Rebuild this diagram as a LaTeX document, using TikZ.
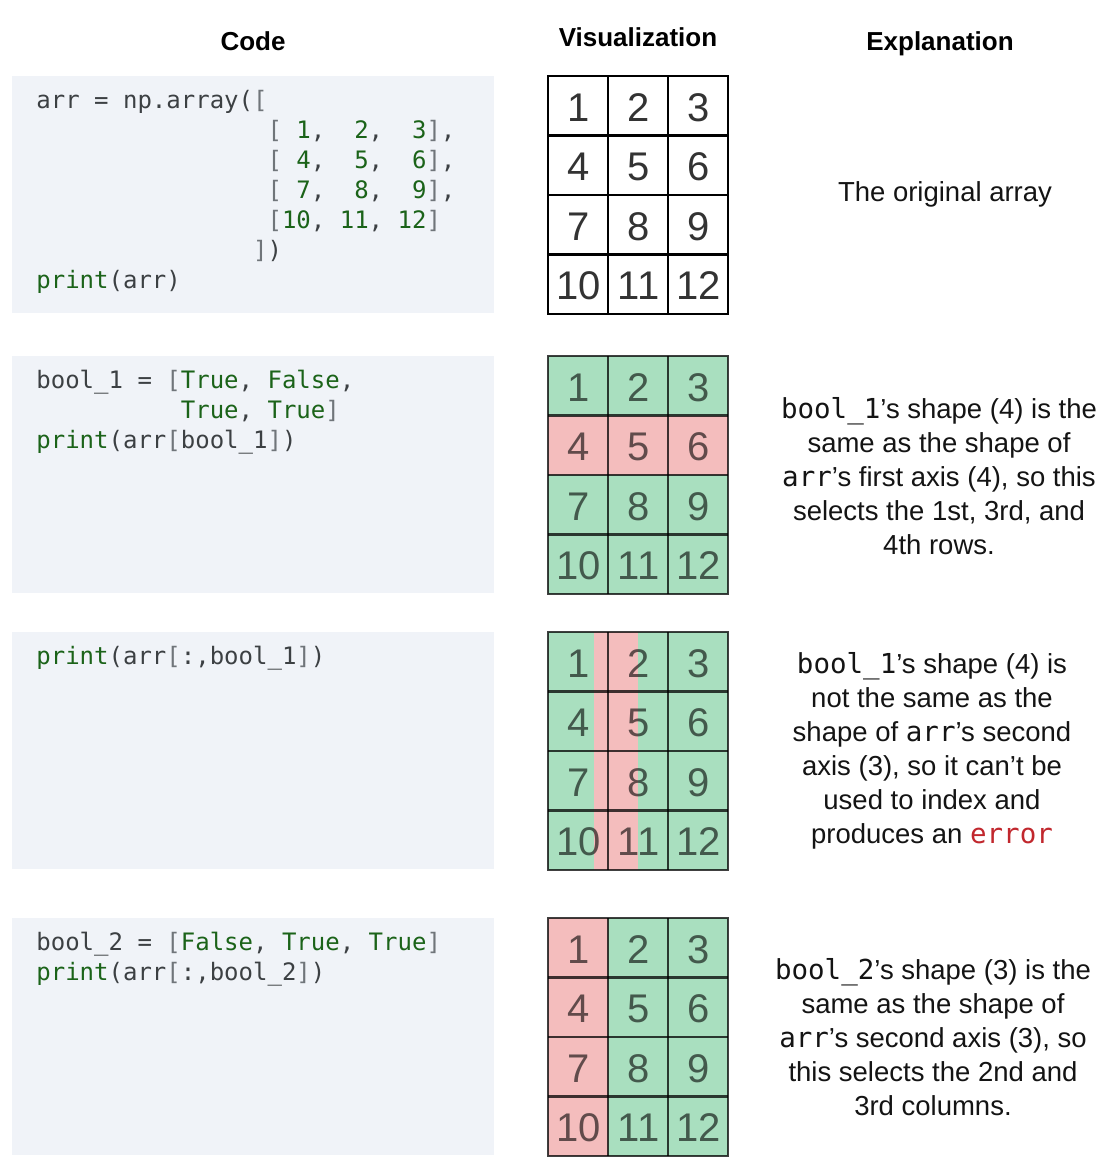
\documentclass[tikz,border=0pt]{standalone}
\usepackage{fontspec}
\setmainfont{Liberation Sans}
\setmonofont{DejaVu Sans Mono}

\definecolor{codebg}{HTML}{F0F3F8}
\definecolor{codegreen}{HTML}{1B6319}
\definecolor{codegray}{HTML}{3C4043}
\definecolor{brgray}{HTML}{70757A}
\definecolor{cellgreen}{HTML}{A9DFBF}
\definecolor{cellred}{HTML}{F4BDBD}
\definecolor{errred}{HTML}{C1272D}

\newcommand{\grn}[1]{\textcolor{codegreen}{#1}}
\newcommand{\gry}[1]{\textcolor{brgray}{#1}}

\tikzset{
  head/.style={anchor=base,font=\fontsize{13}{16}\selectfont\bfseries},
  codebox/.style={fill=codebg},
  codetext/.style={anchor=north west,inner sep=0pt,align=left,text=codegray,
    font=\fontsize{12}{15}\selectfont\ttfamily},
  expl/.style={align=center,text=black!92,font=\fontsize{13.75}{17}\selectfont},
  num/.style={font=\fontsize{20}{24}\selectfont,text=black,text opacity=0.8},
  tinted/.style={text opacity=0.6},
  gridline/.style={line width=1.2pt,draw=black},
  tintline/.style={line width=1.2pt,draw=black,draw opacity=0.75},
}

% numbers 1..12 of one grid, #1 = top edge
\newcommand{\gridnums}[3]{%
  \foreach \n [count=\i from 0] in {1,...,12}{
    \pgfmathtruncatemacro{\rw}{\i/3}
    \pgfmathtruncatemacro{\cl}{mod(\i,3)}
    \node[num,#3] (#2-\n) at ({578.5+60*\cl},{#1+31.5+59.5*\rw}) {\n};
  }
}
% cell borders of one grid
\newcommand{\gridlines}[2]{%
  \draw[#2] (548,#1) rectangle (728,#1+238);
  \foreach \k in {1,2} \draw[#2] ({548+60*\k},#1) -- ({548+60*\k},#1+238);
  \foreach \k in {1,2,3} \draw[#2] (548,{#1+59.5*\k}) -- (728,{#1+59.5*\k});
}

\begin{document}
\begin{tikzpicture}[x=0.5pt,y=-0.5pt]
\fill[white] (0,0) rectangle (1120,1174);
\useasboundingbox (0,0) rectangle (1120,1174);

% headers
\node[head] (hcode) at (253,50) {Code};
\node[head] (hvis) at (638,46.7) {Visualization};
\node[head] (hexpl) at (940,50) {Explanation};

% code panels
\fill[codebox] (12,76) rectangle (494,313);
\fill[codebox] (12,356) rectangle (494,593);
\fill[codebox] (12,632) rectangle (494,869);
\fill[codebox] (12,918) rectangle (494,1155);

\node[codetext] (code1) at (36,90) {arr = np.array(\gry{[}\\
\hphantom{arr = np.array([}\gry{[}~\grn{1},~~\grn{2},~~\grn{3}\gry{]},\\
\hphantom{arr = np.array([}\gry{[}~\grn{4},~~\grn{5},~~\grn{6}\gry{]},\\
\hphantom{arr = np.array([}\gry{[}~\grn{7},~~\grn{8},~~\grn{9}\gry{]},\\
\hphantom{arr = np.array([}\gry{[}\grn{10},~\grn{11},~\grn{12}\gry{]}\\
\hphantom{arr = np.array(}\gry{]})\\
\grn{print}(arr)};

\node[codetext] (code2) at (36,370) {bool\_1 = \gry{[}\grn{True}, \grn{False},\\
\hphantom{bool\_1 = [}\grn{True}, \grn{True}\gry{]}\\
\grn{print}(arr\gry{[}bool\_1\gry{]})};

\node[codetext] (code3) at (36,646) {\grn{print}(arr\gry{[}:,bool\_1\gry{]})};

\node[codetext] (code4) at (36,932) {bool\_2 = \gry{[}\grn{False}, \grn{True}, \grn{True}\gry{]}\\
\grn{print}(arr\gry{[}:,bool\_2\gry{]})};

% grid 1: the original array
\gridlines{76}{gridline}
\gridnums{76}{va}{}

% grid 2: rows selected
\fill[cellgreen] (548,356) rectangle (728,594);
\fill[cellred] (548,415.5) rectangle (728,475);
\gridlines{356}{tintline}
\gridnums{356}{vb}{tinted}

% grid 3: error
\fill[cellgreen] (548,632) rectangle (728,870);
\fill[cellred] (594,632) rectangle (638,870);
\gridlines{632}{tintline}
\gridnums{632}{vc}{tinted}

% grid 4: columns selected
\fill[cellgreen] (548,918) rectangle (728,1156);
\fill[cellred] (548,918) rectangle (608,1156);
\gridlines{918}{tintline}
\gridnums{918}{vd}{tinted}

% explanations
\node[expl] (expl1) at (945,194) {The original array};
\node[expl] (expl2) at (939,476) {\texttt{bool\_1}’s shape (4) is the\\
same as the shape of\\
\texttt{arr}’s first axis (4), so this\\
selects the 1st, 3rd, and\\
4th rows.};
\node[expl] (expl3) at (932,751) {\texttt{bool\_1}’s shape (4) is\\
not the same as the\\
shape of \texttt{arr}’s second\\
axis (3), so it can’t be\\
used to index and\\
produces an \textcolor{errred}{\texttt{error}}};
\node[expl] (expl4) at (933,1037) {\texttt{bool\_2}’s shape (3) is the\\
same as the shape of\\
\texttt{arr}’s second axis (3), so\\
this selects the 2nd and\\
3rd columns.};
\end{tikzpicture}
\end{document}
